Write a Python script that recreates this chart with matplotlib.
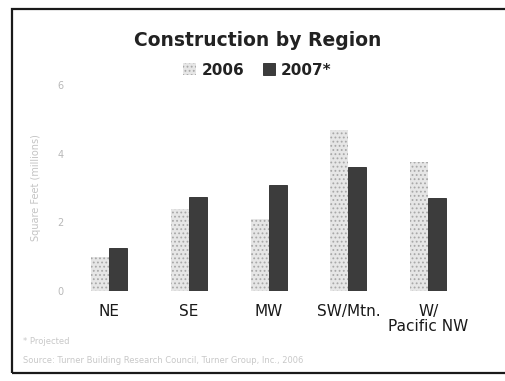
import matplotlib
matplotlib.use("Agg")
import matplotlib.pyplot as plt
from matplotlib.patches import Patch, Rectangle
import numpy as np

regions = ["NE", "SE", "MW", "SW/Mtn.", "W/\nPacific NW"]
values_2006 = [1.0, 2.4, 2.1, 4.7, 3.75]
values_2007 = [1.25, 2.75, 3.1, 3.6, 2.7]
y_ticks = [0, 2, 4, 6]
series_labels = ["2006", "2007*"]

plt.rcParams["font.family"] = ["DejaVu Sans"]
plt.rcParams["hatch.linewidth"] = 0.8

fig = plt.figure(figsize=(5.05, 3.81), dpi=100)
ax = fig.add_axes([0.137, 0.236, 0.79, 0.541])

x = np.arange(len(regions))
w = 0.225
light = "#e6e6e6"
dark = "#3c3c3c"

ax.bar(x - w / 2, values_2006, width=w, color=light, hatch="....",
       edgecolor="#a8a8a8", linewidth=0)
ax.bar(x + w / 2, values_2007, width=w, color=dark, edgecolor="#2a2a2a",
       linewidth=0.6)

ax.set_xlim(-0.5, 4.5)
ax.set_ylim(0, 6)
ax.set_yticks(y_ticks)
ax.set_yticklabels([str(t) for t in y_ticks], color="#b8b8b8", fontsize=7)
ax.set_xticks(x)
ax.set_xticklabels(regions, fontsize=11, color="#1a1a1a", linespacing=1.0)
ax.tick_params(axis="both", length=0)
ax.tick_params(axis="x", pad=9)
ax.tick_params(axis="y", pad=4)
for s in ax.spines.values():
    s.set_visible(False)
ax.set_ylabel("Square Feet (millions)", color="#c4c4c4", fontsize=7, labelpad=12)

fig.text(0.51, 0.895, "Construction by Region", ha="center", va="center",
         fontsize=13.5, fontweight="bold", color="#222222")

handles = [Patch(facecolor=light, hatch="....", edgecolor="#a8a8a8", linewidth=0),
           Patch(facecolor=dark, edgecolor="#2a2a2a", linewidth=0.6)]
leg = fig.legend(handles, series_labels, loc="center", bbox_to_anchor=(0.51, 0.816),
                 ncol=2, frameon=False, fontsize=11, handlelength=0.8,
                 handleheight=0.8, handletextpad=0.4, columnspacing=1.2)
for t in leg.get_texts():
    t.set_fontweight("bold")
    t.set_color("#222222")

fig.text(0.045, 0.104, "* Projected", fontsize=6, color="#c8c8c8", ha="left", va="center")
fig.text(0.045, 0.055,
         "Source: Turner Building Research Council, Turner Group, Inc., 2006",
         fontsize=6, color="#c8c8c8", ha="left", va="center")

# outer frame
fig.add_artist(Rectangle((0.024, 0.022), 1.0, 0.955, transform=fig.transFigure,
                         fill=False, edgecolor="#1a1a1a", linewidth=1.6))

fig.savefig("out.png", dpi=100, facecolor="white")
